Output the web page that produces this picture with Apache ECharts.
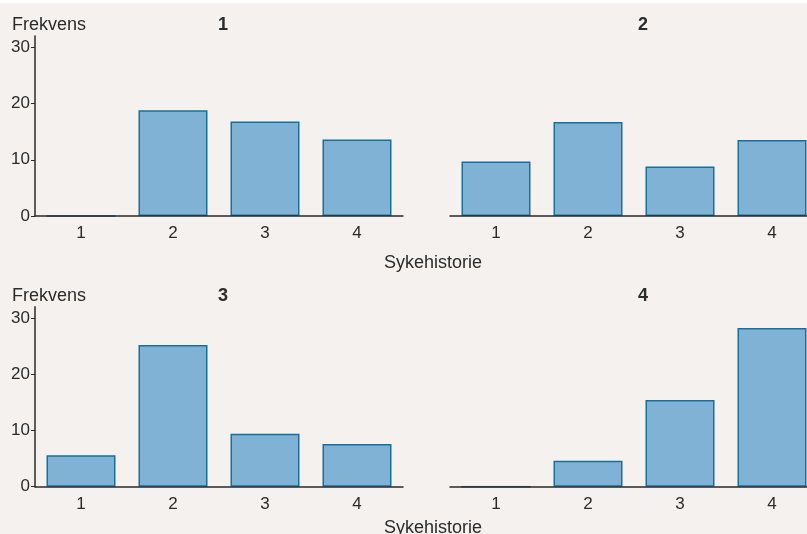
<!DOCTYPE html>
<html>
<head>
<meta charset="utf-8">
<script src="https://cdn.jsdelivr.net/npm/echarts@6/dist/echarts.min.js"></script>
<style>
* { margin: 0; padding: 0; }
body { background: #f5f1ee; }
#topline { position: absolute; left: 0; top: 0; width: 807px; height: 3px; background: #ffffff; z-index: 2; }
#chart { width: 807px; height: 534px; }
</style>
</head>
<body>
<div id="topline"></div>
<div id="chart"></div>
<script>
// data
var categories = ['1', '2', '3', '4'];
var panelTitles = ['1', '2', '3', '4'];
var panel1 = [0, 18.8, 16.8, 13.6];
var panel2 = [9.7, 16.7, 8.8, 13.5];
var panel3 = [5.6, 25.2, 9.4, 7.6];
var panel4 = [0, 4.6, 15.4, 28.2];
var yTicks = [0, 10, 20, 30];

var font = 'Liberation Sans';
var textColor = '#2b2b2b';
var panels = [panel1, panel2, panel3, panel4];

var grids = [
  { left: 35, top: 36, width: 368, height: 180, outerBoundsMode: 'none' },
  { left: 450, top: 36, width: 368, height: 180, outerBoundsMode: 'none' },
  { left: 35, top: 306.7, width: 368, height: 180, outerBoundsMode: 'none' },
  { left: 450, top: 306.7, width: 368, height: 180, outerBoundsMode: 'none' }
];

// x axis drawn above bars so the baseline stays dark
var xAxes = grids.map(function (g, i) {
  return {
    type: 'category',
    gridIndex: i,
    data: categories,
    z: 5,
    axisLine: { lineStyle: { color: '#2a2a2a', width: 1.5 } },
    axisTick: { show: false },
    axisLabel: { color: textColor, fontFamily: font, fontSize: 17, margin: 9 }
  };
});

var yAxes = grids.map(function (g, i) {
  var left = (i % 2 === 0);
  return {
    type: 'value',
    gridIndex: i,
    min: 0,
    max: 32,
    interval: 10,
    splitLine: { show: false },
    axisLine: { show: left, lineStyle: { color: '#2a2a2a', width: 1.5 } },
    axisTick: { show: left, length: 4, customValues: yTicks, lineStyle: { color: '#2a2a2a' } },
    axisLabel: { show: left, customValues: yTicks, color: textColor, fontFamily: font, fontSize: 17, margin: 5 }
  };
});

var series = panels.map(function (vals, i) {
  return {
    type: 'bar',
    xAxisIndex: i,
    yAxisIndex: i,
    data: vals,
    barCategoryGap: '25%',
    itemStyle: { color: '#7fb2d4', borderColor: '#17709c', borderWidth: 1.5 },
    silent: true
  };
});

var titleStyle = { color: textColor, fontFamily: font, fontSize: 18, fontWeight: 'normal' };
var boldStyle = { color: textColor, fontFamily: font, fontSize: 18, fontWeight: 'bold' };

var titles = [
  { text: 'Frekvens', left: 7, top: 11, textStyle: titleStyle },
  { text: 'Frekvens', left: 7, top: 282, textStyle: titleStyle },
  { text: panelTitles[0], left: 218, top: 11, textAlign: 'center', textStyle: boldStyle },
  { text: panelTitles[1], left: 638, top: 11, textAlign: 'center', textStyle: boldStyle },
  { text: panelTitles[2], left: 218, top: 282, textAlign: 'center', textStyle: boldStyle },
  { text: panelTitles[3], left: 638, top: 282, textAlign: 'center', textStyle: boldStyle },
  { text: 'Sykehistorie', left: 428, top: 249, textAlign: 'center', textStyle: titleStyle },
  { text: 'Sykehistorie', left: 428, top: 514, textAlign: 'center', textStyle: titleStyle }
];

var chart = echarts.init(document.getElementById('chart'));
chart.setOption({
  backgroundColor: '#f5f1ee',
  animation: false,
  title: titles,
  grid: grids,
  xAxis: xAxes,
  yAxis: yAxes,
  series: series
});
</script>
</body>
</html>
